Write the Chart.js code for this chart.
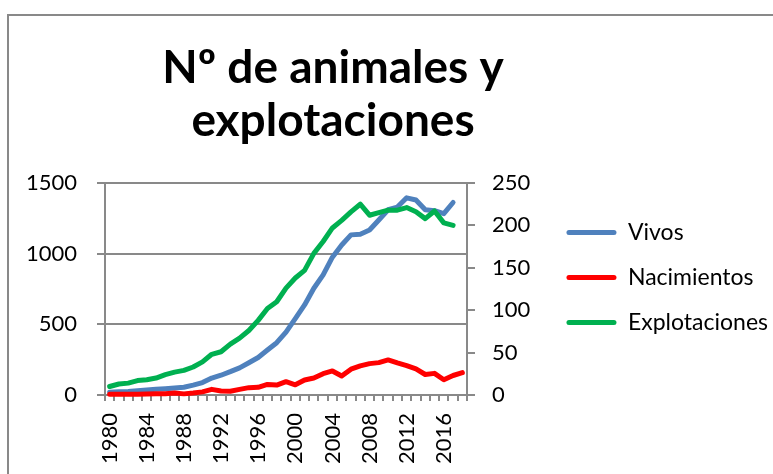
<!DOCTYPE html>
<html><head><meta charset="utf-8">
<script src="https://cdn.jsdelivr.net/npm/chart.js@4/dist/chart.umd.min.js"></script>
<style>html,body{margin:0;padding:0;background:#fff;overflow:hidden}#wrap{width:773px;height:474px;position:relative}</style>
</head><body><div id="wrap"><canvas id="c"></canvas></div>
<script>
const titleLines = ['Nº de animales y', 'explotaciones'];
const years = ['1980','1981','1982','1983','1984','1985','1986','1987','1988','1989',
  '1990','1991','1992','1993','1994','1995','1996','1997','1998','1999',
  '2000','2001','2002','2003','2004','2005','2006','2007','2008','2009',
  '2010','2011','2012','2013','2014','2015','2016','2017','2018'];
const xTickLabels = ['1980','1984','1988','1992','1996','2000','2004','2008','2012','2016'];
const vivos = [20,23,25,30,35,40,45,50,55,70,
  88,120,140,165,192,228,265,318,370,445,
  540,637,755,850,975,1061,1133,1138,1167,1238,
  1311,1330,1395,1380,1311,1304,1283,1362,null];
const nacimientos = [5,5,6,6,7,8,9,14,8,14,
  22,40,28,27,40,52,54,75,70,94,
  72,106,120,151,170,134,183,206,222,229,
  248,227,208,185,145,153,108,138,158];
const explotaciones = [10,13,14,17,18,20,24,27,29,33,
  39,48,51,60,67,76,88,102,110,126,
  138,147,167,181,197,206,216,225,212,215,
  218,218,221,216,208,217,203,200,null];
const leftTicks = [0,500,1000,1500];
const rightTicks = [0,50,100,150,200,250];

const GRID = '#898989';
const FONT = 'Lato';
const PAD_RIGHT = -5;
Chart.defaults.font.family = FONT;
Chart.defaults.color = '#000';

const frameTitle = {
  id: 'frameTitle',
  beforeDraw(chart) {
    const ctx = chart.ctx;
    ctx.save();
    ctx.fillStyle = '#fff';
    ctx.fillRect(0, 0, chart.width, chart.height);
    ctx.strokeStyle = GRID;
    ctx.lineWidth = 2;
    ctx.strokeRect(8, 15, chart.width + 20, chart.height + 20);
    ctx.restore();
  },
  afterDraw(chart) {
    const ctx = chart.ctx;
    ctx.save();
    ctx.fillStyle = '#000';
    ctx.font = 'bold 46px ' + FONT;
    ctx.textAlign = 'center';
    ctx.textBaseline = 'alphabetic';
    ctx.fillText(titleLines[0], 333, 83);
    ctx.fillText(titleLines[1], 333, 136);
    ctx.restore();
  }
};

const lineDs = (label, data, color, axis, order) => ({
  label, data, yAxisID: axis, order,
  borderColor: color, backgroundColor: color,
  borderWidth: 5, pointRadius: 0, pointHoverRadius: 0,
  tension: 0, fill: false, spanGaps: false, clip: false,
  borderJoinStyle: 'round', borderCapStyle: 'round'
});

new Chart(document.getElementById('c'), {
  type: 'line',
  data: {
    labels: years,
    datasets: [
      lineDs('Vivos', vivos, '#4F81BD', 'y', 2),
      lineDs('Nacimientos', nacimientos, '#FF0000', 'y', 1),
      lineDs('Explotaciones', explotaciones, '#00B050', 'y1', 0)
    ]
  },
  options: {
    responsive: true, maintainAspectRatio: false, animation: false,
    layout: { padding: { top: 183, left: 0, right: PAD_RIGHT, bottom: 0 } },
    plugins: {
      tooltip: { enabled: false },
      title: { display: false },
      legend: {
        position: 'right', align: 'start', maxWidth: 300,
        title: { display: true, text: ' ', font: { size: 10 }, padding: { top: 4, bottom: 0 } },
        labels: {
          boxWidth: 50, boxHeight: 5, padding: 22,
          useBorderRadius: true, borderRadius: 2.5,
          font: { size: 23, family: FONT }, color: '#000',
          sort: (a, b) => a.datasetIndex - b.datasetIndex,
          generateLabels(chart) {
            const items = Chart.defaults.plugins.legend.labels.generateLabels(chart);
            return items.map(it => Object.assign(it, { lineWidth: 0 }));
          }
        }
      }
    },
    scales: {
      x: {
        type: 'category', offset: true,
        grid: { display: true, drawOnChartArea: false, drawTicks: true, tickLength: 6, offset: true, color: GRID, lineWidth: 2 },
        border: { display: true, color: GRID, width: 2 },
        ticks: {
          autoSkip: false, maxRotation: 90, minRotation: 90, padding: 12,
          font: { size: 22 }, color: '#000',
          callback(v) { const l = this.getLabelForValue(v); return xTickLabels.includes(l) ? l : ''; }
        },
        afterFit(s) { s.height = 79; }
      },
      y: {
        position: 'left', min: 0, max: 1500,
        afterBuildTicks(s) { s.ticks = leftTicks.map(v => ({ value: v })); },
        grid: { color: GRID, lineWidth: 2, tickLength: 8, drawTicks: true },
        border: { display: true, color: GRID, width: 2 },
        ticks: { padding: 20, font: { size: 22 }, color: '#000', callback: v => String(v) },
        afterFit(s) { s.width = 105; }
      },
      y1: {
        position: 'right', min: 0, max: 250,
        afterBuildTicks(s) { s.ticks = rightTicks.map(v => ({ value: v })); },
        grid: { drawOnChartArea: false, color: GRID, lineWidth: 2, tickLength: 8, drawTicks: true },
        border: { display: true, color: GRID, width: 2 },
        ticks: { padding: 17, font: { size: 22 }, color: '#000', callback: v => String(v) },
        afterFit(s) { s.width = Math.max(10, s.chart.width - PAD_RIGHT - s.chart.legend.width - 467); }
      }
    }
  },
  plugins: [frameTitle]
});
</script>
</body></html>
